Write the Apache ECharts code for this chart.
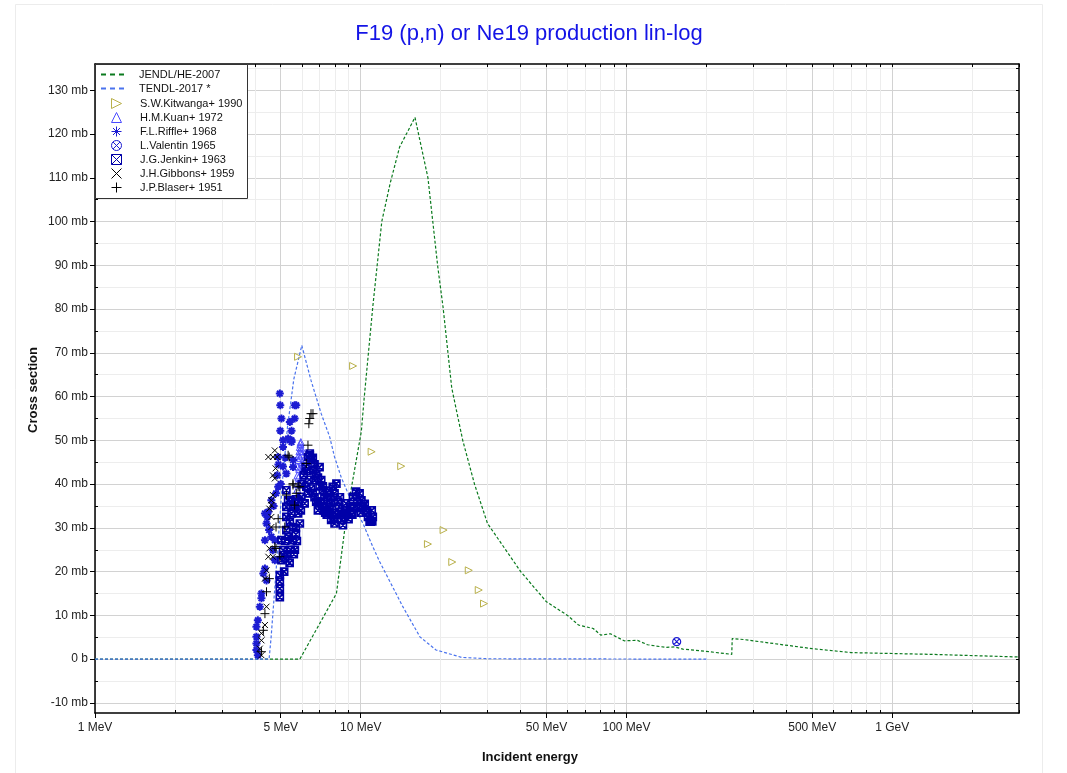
<!DOCTYPE html>
<html><head><meta charset="utf-8">
<script src="https://cdn.jsdelivr.net/npm/echarts@6/dist/echarts.min.js"></script>
<style>html,body{margin:0;padding:0;background:#fff}#c{width:1067px;height:773px}</style>
</head><body><div id="c"></div><script>
// ---------- data (energies in MeV, cross sections in mb) ----------
const xMajor = [1, 5, 10, 50, 100, 500, 1000];
const xMajorLabels = ['1 MeV', '5 MeV', '10 MeV', '50 MeV', '100 MeV', '500 MeV', '1 GeV'];
const xMinor = [2, 3, 4, 6, 7, 8, 9, 20, 30, 40, 60, 70, 80, 90, 200, 300, 400, 600, 700, 800, 900, 2000, 3000];
const yMajor = [-10, 0, 10, 20, 30, 40, 50, 60, 70, 80, 90, 100, 110, 120, 130];
const yMinor = [-5, 5, 15, 25, 35, 45, 55, 65, 75, 85, 95, 105, 115, 125, 135];

const jendlE  = [1, 5.9, 8.1, 8.85, 10.05, 10.3, 11.1, 12.0, 12.9, 14.0, 16.0, 17.9, 19.5, 20.4, 22.0, 24.2, 26.8, 30.0, 40.0, 50.0, 60.0, 66.0, 75.0, 80.0, 87.0, 98.0, 110.0, 120.0, 140.0, 152.0, 163.0, 205.0, 249.0, 250.0, 275.0, 500.0, 700.0, 1400.0, 3000.0];
const jendlXS = [0, 0, 15, 33, 52, 59.6, 80.5, 100, 108.7, 117, 123.8, 110, 89.6, 80.5, 62, 50, 40, 31, 20, 13.1, 10, 7.8, 7, 5.5, 5.8, 4.2, 4.3, 3.3, 2.7, 2.8, 2.3, 1.7, 1.1, 4.7, 4.5, 2.4, 1.5, 1.1, 0.5];

const tendlE  = [1, 4.52, 4.6, 4.8, 5.08, 5.3, 5.6, 6.0, 6.5, 7.1, 7.64, 7.97, 8.44, 9.07, 9.6, 10.2, 11.1, 11.8, 14.4, 16.7, 19.2, 24.0, 30.0, 200.0];
const tendlXS = [0, 0, 5, 20, 41, 53, 64, 71.7, 63.7, 56.1, 50.8, 46.2, 41.6, 37.1, 34, 31, 25.7, 22.2, 12, 5.1, 2.1, 0.4, 0.1, 0];

const kitE  = [5.81, 9.36, 10.99, 14.2, 17.9, 20.5, 22.1, 25.5, 27.8, 29.1];
const kitXS = [69.1, 67, 47.4, 44.1, 26.3, 29.5, 22.2, 20.3, 15.8, 12.7];

const kuanE  = [5.75, 5.78, 5.80, 5.82, 5.85, 5.88, 5.90, 5.93, 5.95, 5.97, 5.99, 6.02, 6.05, 5.77, 5.83, 5.87, 5.92, 5.96, 6.00, 6.04];
const kuanXS = [40, 42, 44, 45.5, 46.5, 47.5, 48.5, 49.2, 49.6, 48.3, 46.8, 45, 43, 38.8, 41.5, 43.5, 46, 47.5, 44, 41];

const riffleE  = [4.96, 4.98, 5.03, 4.98, 5.49, 5.72, 5.64, 5.41, 5.1, 5.49, 5.1, 4.89, 5.56, 5.56, 5.1, 5.25, 4.89, 4.8, 4.61, 4.49, 4.42, 4.36, 4.61, 4.75, 4.67, 4.75, 4.36, 4.3, 4.42, 4.23, 4.23, 4.17, 4.1, 4.05, 4.05, 4.05, 4.05, 4.1, 4.36, 4.45, 4.52, 4.7, 4.85, 4.9, 5.0, 5.2, 5.33, 5.64, 5.41, 5.49];
const riffleXS = [60.7, 58, 55, 52.2, 52.2, 58, 55, 54.2, 50, 50, 48.5, 46.2, 45.5, 43.9, 44, 42.4, 39.4, 37.9, 36.3, 33.7, 31, 27.2, 28, 27.2, 24.9, 22.6, 20.7, 19.6, 18, 15, 13.9, 12, 8.9, 7.4, 5.1, 3.6, 2.1, 0.9, 33.3, 32.5, 29.5, 35, 42, 44.5, 40, 46, 50.4, 58, 50, 49.6];

const valE  = [154.5];
const valXS = [4.0];

const jenE  = [4.96, 4.96, 4.96, 4.96, 5.1, 5.1, 5.03, 5.03, 5.25, 5.33, 5.25, 5.25, 5.56, 5.56, 5.49, 5.41, 5.64, 5.81, 5.9, 5.98, 6.15, 6.24, 6.33, 6.43, 6.52, 6.61, 6.7, 6.8, 7.0, 7.1, 7.2, 7.3, 7.54, 7.63, 7.74, 7.85, 7.97, 8.1, 7.4, 7.54, 7.74, 7.97, 8.3, 8.44, 8.57, 8.8, 9.1, 9.35, 9.6, 9.9, 10.06, 10.2, 10.5, 10.65, 10.8, 10.9, 6.33, 6.43, 11.0, 11.1, 5.2, 5.45, 5.6, 5.7, 5.4, 5.15, 6.9, 7.2, 7.45, 8.0, 8.6, 9.3,
  6.0, 6.1, 6.2, 6.3, 6.4, 6.5, 6.6, 6.7, 6.8, 6.9, 6.6, 6.7, 6.9, 7.0, 7.05, 7.15, 7.25, 7.35, 7.45, 7.6, 7.7, 7.8, 7.9, 8.05, 8.2, 8.35, 8.5, 8.65, 8.75, 8.9, 9.0, 9.2, 9.45, 9.7, 9.8, 10.0, 10.35, 10.6, 11.05, 5.7, 5.75, 5.65, 5.35, 5.3, 5.2, 5.25, 5.45, 5.55, 5.7, 5.85, 5.95];
const jenXS = [19.2, 17.7, 16.1, 14.2, 24.9, 23.8, 22.6, 27.2, 38.6, 36.3, 34.8, 32.5, 30.2, 27.2, 33.3, 31.4, 34.8, 33.3, 31, 37.1, 35.6, 39.4, 37.9, 47, 45.5, 43.2, 40.9, 42.4, 43.9, 40.9, 38.6, 37.1, 36.3, 34.8, 35.6, 39.4, 37.9, 40.1, 34, 33.3, 31.8, 31, 34.8, 31.8, 30.6, 35.6, 34.8, 37.1, 38.3, 37.9, 36.3, 34.8, 34, 32.5, 31.4, 31.4, 46.2, 46.6, 34, 32.5, 27, 25, 24, 28.5, 22, 20, 36, 39.5, 33, 33.5, 33, 33,
  40, 42, 44, 43, 41, 39, 38, 37, 36, 34, 46, 44.5, 41.5, 39.5, 36, 35, 34, 33.5, 38, 38.5, 37, 33, 32, 33, 36, 37, 33, 32.5, 34, 33.5, 32, 33, 35, 36, 34.5, 33.5, 35.5, 33.5, 31.5, 30, 27, 25, 28, 24, 23, 29.5, 36, 35, 36.5, 36, 34];

const gibE  = [4.75, 4.49, 4.67, 4.78, 4.67, 4.75, 4.67, 4.61, 4.61, 4.53, 4.61, 4.61, 4.53, 4.67, 4.42, 4.36, 4.49, 4.42, 4.36, 4.23, 4.23, 4.17, 4.23, 4.85];
const gibXS = [47.7, 46.2, 46.2, 43.6, 42, 41.3, 37.5, 36.3, 35.2, 34.4, 32.5, 30.2, 25.3, 23.4, 20.3, 18.4, 23.4, 12, 7.8, 5.9, 4.3, 2.4, 0.9, 46.2];

const blaE  = [6.5, 6.43, 6.61, 6.38, 6.33, 5.38, 5.56, 5.9, 5.72, 5.25, 5.64, 5.18, 4.89, 4.8, 4.75, 4.53, 4.42, 4.36, 4.3, 4.23, 4.96, 4.8, 5.33, 6.24, 5.81, 5.56];
const blaXS = [56.1, 55, 56.1, 53.8, 48.9, 46.2, 39.8, 39.4, 37.9, 37.5, 35.2, 30.2, 32.1, 30.2, 25.7, 18.4, 15.4, 10.4, 6.6, 1.7, 23.4, 25.3, 46.6, 44.7, 39.4, 40.1];

// ---------- chart ----------
const FONT = '"Liberation Sans", Arial, Helvetica, sans-serif';
const zip = (a, b) => a.map((v, i) => [v, b[i]]);

function xLabel(v) {
  let best = 0, bd = Infinity;
  xMajor.forEach((m, i) => { const d = Math.abs(Math.log(v / m)); if (d < bd) { bd = d; best = i; } });
  return xMajorLabels[best];
}
function yLabel(v) {
  const r = Math.round(v);
  return r === 0 ? '0 b' : r + ' mb';
}

const SYM = {
  triRight: 'path://M0,0 L10,5 L0,10 Z',
  triUp: 'path://M5,0 L10,10 L0,10 Z',
  asterisk: 'path://M5,0 L5,10 M0,5 L10,5 M1.5,1.5 L8.5,8.5 M8.5,1.5 L1.5,8.5',
  circX: 'path://M10,5 A5,5 0 1,1 0,5 A5,5 0 1,1 10,5 Z M1.6,1.6 L8.4,8.4 M8.4,1.6 L1.6,8.4',
  boxX: 'path://M0,0 L10,0 L10,10 L0,10 Z M0,0 L10,10 M10,0 L0,10',
  cross: 'path://M0,0 L10,10 M10,0 L0,10',
  plus: 'path://M5,0 L5,10 M0,5 L10,5'
};

function scatter(name, e, xs, symbol, size, color, bw, fill) {
  return {
    name, type: 'scatter', data: zip(e, xs), symbol, symbolSize: size,
    itemStyle: { color: fill || 'none', borderColor: color, borderWidth: bw, opacity: 1 },
    emphasis: { disabled: true }, animation: false, z: 3
  };
}

const axisText = { color: '#222', fontSize: 12, fontFamily: FONT };
const black = { color: '#000', width: 1 };

const option = {
  animation: false,
  backgroundColor: '#fff',
  grid: { left: 95, right: 48, top: 64, bottom: 60, containLabel: false },
  xAxis: [
    { type: 'log', logBase: 10, min: 1, max: 3000, position: 'bottom',
      axisLine: { show: true, onZero: false, lineStyle: { color: '#000', width: 1.5 } },
      axisTick: { show: true, customValues: xMajor, inside: false, length: 5, lineStyle: black },
      axisLabel: { show: true, customValues: xMajor, formatter: xLabel, margin: 9, ...axisText },
      splitLine: { show: true, lineStyle: { color: '#d2d2d2', width: 1 } },
      minorTick: { show: false }, minorSplitLine: { show: false } },
    { type: 'log', logBase: 10, min: 1, max: 3000, position: 'bottom',
      axisLine: { show: false, onZero: false },
      axisTick: { show: true, customValues: xMinor, inside: true, length: 3, lineStyle: black },
      axisLabel: { show: false },
      splitLine: { show: true, lineStyle: { color: '#ededed', width: 1 } } },
    { type: 'log', logBase: 10, min: 1, max: 3000, position: 'top',
      axisLine: { show: true, onZero: false, lineStyle: { color: '#000', width: 1.5 } },
      axisTick: { show: true, customValues: xMajor.concat(xMinor), inside: true, length: 3, lineStyle: black },
      axisLabel: { show: false }, splitLine: { show: false } }
  ],
  yAxis: [
    { type: 'value', min: -12.3, max: 136, position: 'left',
      axisLine: { show: true, onZero: false, lineStyle: { color: '#000', width: 1.5 } },
      axisTick: { show: true, customValues: yMajor, inside: false, length: 5, lineStyle: black },
      axisLabel: { show: true, customValues: yMajor, formatter: yLabel, margin: 7, ...axisText },
      splitLine: { show: true, lineStyle: { color: '#d2d2d2', width: 1 } } },
    { type: 'value', min: -12.3, max: 136, position: 'left',
      axisLine: { show: false, onZero: false },
      axisTick: { show: true, customValues: yMinor, inside: true, length: 3, lineStyle: black },
      axisLabel: { show: false },
      splitLine: { show: true, lineStyle: { color: '#ededed', width: 1 } } },
    { type: 'value', min: -12.3, max: 136, position: 'right',
      axisLine: { show: true, onZero: false, lineStyle: { color: '#000', width: 1.5 } },
      axisTick: { show: true, customValues: yMajor.concat(yMinor), inside: true, length: 3, lineStyle: black },
      axisLabel: { show: false }, splitLine: { show: false } }
  ],
  legend: [
    { left: 100, top: 69, orient: 'vertical', itemWidth: 27, itemHeight: 10, itemGap: 3,
      padding: 0, selectedMode: false, z: 10,
      textStyle: { fontSize: 11, fontFamily: FONT, color: '#111', padding: [0, 0, 0, 6] },
      data: [
        { name: 'JENDL/HE-2007', lineStyle: { width: 2, type: [5, 4] }, itemStyle: { opacity: 0, color: 'transparent', borderWidth: 0 } },
        { name: 'TENDL-2017 *', lineStyle: { width: 2, type: [5, 4] }, itemStyle: { opacity: 0, color: 'transparent', borderWidth: 0 } }
      ] },
    { left: 109, top: 96, orient: 'vertical', itemWidth: 11, itemHeight: 10, itemGap: -1,
      padding: 0, selectedMode: false, z: 10,
      textStyle: { fontSize: 11, fontFamily: FONT, color: '#111', padding: [0, 0, 0, 13] },
      itemStyle: { borderWidth: 1 },
      data: ['S.W.Kitwanga+ 1990', 'H.M.Kuan+ 1972', 'F.L.Riffle+ 1968', 'L.Valentin 1965',
             'J.G.Jenkin+ 1963', 'J.H.Gibbons+ 1959', 'J.P.Blaser+ 1951'] }
  ],
  graphic: [
    { type: 'rect', shape: { x: 15.5, y: 4.5, width: 1027, height: 820 }, style: { fill: 'none', stroke: '#ececec', lineWidth: 1 }, z: -10, silent: true },
    { type: 'rect', shape: { x: 95.5, y: 64.5, width: 152, height: 134 }, style: { fill: '#fff', stroke: '#333', lineWidth: 1 }, z: 8, silent: true },
    { type: 'text', x: 529, y: 34, style: { text: 'F19 (p,n) or Ne19 production lin-log', fill: '#1414e6', font: '22px ' + FONT, textAlign: 'center', textVerticalAlign: 'middle' } },
    { type: 'text', x: 530, y: 757, style: { text: 'Incident energy', fill: '#111', font: 'bold 13px ' + FONT, textAlign: 'center', textVerticalAlign: 'middle' } },
    { type: 'text', x: 33, y: 390, rotation: Math.PI / 2, style: { text: 'Cross section', fill: '#111', font: 'bold 13px ' + FONT, textAlign: 'center', textVerticalAlign: 'middle' } }
  ],
  series: [
    { name: 'JENDL/HE-2007', type: 'line', data: zip(jendlE, jendlXS), symbol: 'none', smooth: false,
      lineStyle: { color: '#0b7a1e', width: 1.2, type: [3, 2] }, itemStyle: { color: '#0b7a1e' }, z: 2, emphasis: { disabled: true } },
    { name: 'TENDL-2017 *', type: 'line', data: zip(tendlE, tendlXS), symbol: 'none', smooth: false,
      lineStyle: { color: '#4a73ee', width: 1.2, type: [3, 2] }, itemStyle: { color: '#4a73ee' }, z: 2, emphasis: { disabled: true } },
    scatter('S.W.Kitwanga+ 1990', kitE, kitXS, SYM.triRight, 7, '#b9b04a', 1),
    scatter('H.M.Kuan+ 1972', kuanE, kuanXS, SYM.triUp, 7, '#4b4bff', 1),
    scatter('F.L.Riffle+ 1968', riffleE, riffleXS, SYM.asterisk, 8, '#1c1cd2', 2),
    scatter('L.Valentin 1965', valE, valXS, SYM.circX, 8, '#1c1cd2', 1.2),
    scatter('J.G.Jenkin+ 1963', jenE, jenXS, SYM.boxX, 7, '#0000a8', 1.7),
    scatter('J.H.Gibbons+ 1959', gibE, gibXS, SYM.cross, 6, '#000', 1),
    scatter('J.P.Blaser+ 1951', blaE, blaXS, SYM.plus, 9, '#000', 1)
  ]
};

const chart = echarts.init(document.getElementById('c'), null, { renderer: 'canvas' });
chart.setOption(option);
</script></body></html>
